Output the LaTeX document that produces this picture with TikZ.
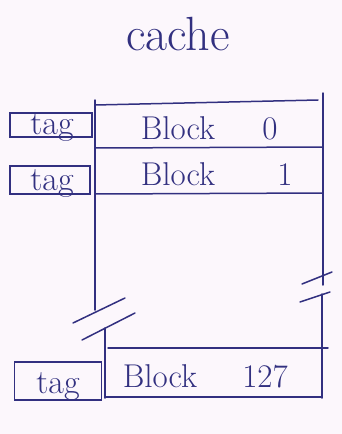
\documentclass[tikz,border=0pt]{standalone}
\usepackage{tikz}
\usetikzlibrary{positioning}
\definecolor{ink}{RGB}{50, 48, 128}
\definecolor{paper}{RGB}{252, 247, 252}

\begin{document}
\begin{tikzpicture}[x=1pt, y=-1pt,
    pen/.style={draw=ink, line width=1.5pt, line cap=round},
    tagbox/.style={draw=ink, line width=1.5pt, inner sep=0pt},
    tagtext/.style={text=ink, font=\fontsize{34}{34}\selectfont, anchor=base},
    blocktext/.style={text=ink, font=\fontsize{33}{33}\selectfont, anchor=base}]
        % Page
        \fill[paper] (0,0) rectangle (342,434);
        \useasboundingbox (0,0) rectangle (342,434);

        % Title
        \node[text=ink, font=\fontsize{48}{48}\selectfont, anchor=base] (title) at (178,50) {cache};

        % Outer frame, upper part
        \draw[pen] (95,100) -- (95,310);
        \draw[pen] (323,93) -- (323,285);
        \draw[pen] (95,105) -- (318,100);

        % Rows of the cache
        \draw[pen] (95,148) -- (323,147);
        \draw[pen] (95,194) -- (323,193);
        \node[blocktext] (blk0) at (178,139) {Block};
        \node[blocktext] (num0) at (270,139) {0};
        \node[blocktext] (blk1) at (178,185) {Block};
        \node[blocktext] (num1) at (285,185) {1};

        % Break marks
        \draw[pen] (73,323) -- (125,298);
        \draw[pen] (82,340) -- (135,313);
        \draw[pen] (302,284) -- (332,272);
        \draw[pen] (300,302) -- (330,292);

        % Outer frame, lower part
        \draw[pen] (105,328) -- (105,398);
        \draw[pen] (322,294) -- (322,398);
        \draw[pen] (108,348) -- (328,348);
        \draw[pen] (105,397) -- (322,397);
        \node[blocktext] (blk127) at (160,387) {Block};
        \node[blocktext] (num127) at (265,387) {127};

        % Tags
        \node[tagbox, minimum width=82pt, minimum height=24pt] (tag0) at (51,125) {};
        \node[tagtext] at (52,134) {tag};
        \node[tagbox, minimum width=80pt, minimum height=28pt] (tag1) at (50,180) {};
        \node[tagtext] at (52,190) {tag};
        \node[tagbox, minimum width=87pt, minimum height=38pt] (tag127) at (58,381) {};
        \node[tagtext] at (58,393) {tag};
\end{tikzpicture}
\end{document}
